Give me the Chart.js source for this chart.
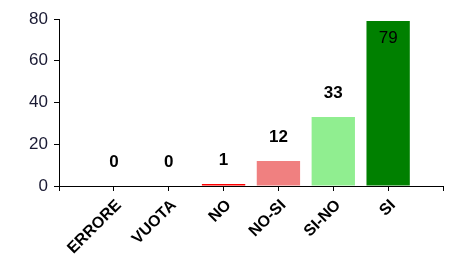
<!DOCTYPE html>
<html>
<head>
<meta charset="utf-8">
<script src="https://cdn.jsdelivr.net/npm/chart.js@4"></script>
<style>
  html, body { margin: 0; padding: 0; background: #fff; }
  #wrap { width: 450px; height: 263px; }
</style>
</head>
<body>
<div id="wrap"><canvas id="barChart"></canvas></div>
<script>
// empty slots at both ends, the axis runs tick to tick
const categories = ['', 'ERRORE', 'VUOTA', 'NO', 'NO-SI', 'SI-NO', 'SI', ''];
const counts = [null, 0, 0, 1, 12, 33, 79, null];
const barColors = ['#fff', '#ff0000', '#ff0000', '#ff0000', '#f08080', '#90ee90', '#008000', '#fff'];
const yTicks = [0, 20, 40, 60, 80];

const FONT = '"Liberation Sans", Arial, sans-serif';

const valueLabels = {
    id: 'valueLabels',
    afterDatasetsDraw(chart) {
        const ctx = chart.ctx;
        const meta = chart.getDatasetMeta(0);
        const top = chart.chartArea.top;
        ctx.save();
        ctx.textAlign = 'center';
        ctx.textBaseline = 'middle';
        ctx.fillStyle = '#000';
        meta.data.forEach((bar, i) => {
            const v = counts[i];
            if (v === null) return;
            let y = bar.y - 24;
            if (y < top + 8) {
                ctx.font = '17px ' + FONT;
                y = bar.y + 17;
            } else {
                ctx.font = 'bold 17px ' + FONT;
            }
            ctx.fillText(String(v), bar.x, y);
        });
        ctx.restore();
    }
};

new Chart(document.getElementById('barChart'), {
    type: 'bar',
    data: {
        labels: categories,
        datasets: [{
            data: counts,
            backgroundColor: barColors,
            borderWidth: 0,
            categoryPercentage: 1,
            barPercentage: 0.79
        }]
    },
    options: {
        responsive: true,
        maintainAspectRatio: false,
        animation: false,
        layout: { padding: { top: 19, right: 7, left: 0, bottom: 0 } },
        plugins: { legend: { display: false }, tooltip: { enabled: false } },
        scales: {
            x: {
                offset: false,
                afterFit(scale) {
                    scale.height = 77;
                    scale.paddingLeft = 0;
                    scale.paddingRight = 0;
                },
                grid: { offset: false, drawOnChartArea: false, drawTicks: true, tickLength: 5, color: '#000' },
                border: { color: '#000', width: 1 },
                ticks: {
                    autoSkip: false,
                    maxRotation: 45,
                    minRotation: 45,
                    color: '#000',
                    padding: 5,
                    labelOffset: 5,
                    font: { family: FONT, size: 16, weight: 'bold' }
                }
            },
            y: {
                min: 0,
                max: 80,
                afterFit(scale) { scale.width = 59; },
                afterBuildTicks(scale) { scale.ticks = yTicks.map(v => ({ value: v })); },
                grid: { drawOnChartArea: false, drawTicks: true, tickLength: 5, color: '#000' },
                border: { color: '#000', width: 1 },
                ticks: {
                    color: '#1a1a33',
                    padding: 6,
                    font: { family: FONT, size: 17 }
                }
            }
        }
    },
    plugins: [valueLabels]
});
</script>
</body>
</html>
